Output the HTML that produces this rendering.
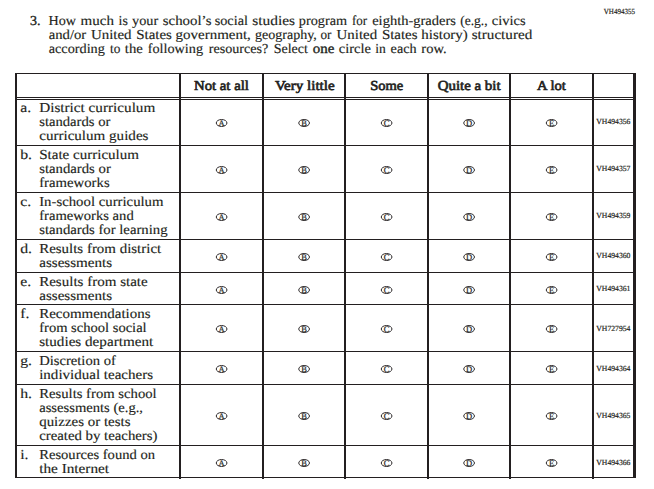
<!DOCTYPE html>
<html><head><meta charset="utf-8"><title>Question 3</title>
<style>html,body{margin:0;padding:0;background:#fff;}svg{display:block}text{fill:#231f20;stroke:#231f20;stroke-width:0.15px}text[font-weight=bold]{stroke:none}text.l{fill:#231f20;stroke:#231f20;stroke-width:0.2px}text.md{stroke:#231f20;stroke-width:0.35px}text.id{stroke:#231f20;stroke-width:0.18px}text.sb{stroke:#231f20;stroke-width:0.65px;stroke-linejoin:round}</style></head>
<body><svg width="654" height="489" viewBox="0 0 654 489" text-rendering="geometricPrecision">
<rect x="15" y="73" width="621" height="1" fill="#231f20"/>
<rect x="15" y="97" width="620" height="1" fill="#231f20"/>
<rect x="15" y="99" width="620" height="1" fill="#231f20"/>
<rect x="15" y="145" width="620" height="1" fill="#231f20"/>
<rect x="15" y="192" width="620" height="1" fill="#231f20"/>
<rect x="15" y="239" width="620" height="1" fill="#231f20"/>
<rect x="15" y="272" width="620" height="1" fill="#231f20"/>
<rect x="15" y="304" width="620" height="1" fill="#231f20"/>
<rect x="15" y="351" width="620" height="1" fill="#231f20"/>
<rect x="15" y="384" width="620" height="1" fill="#231f20"/>
<rect x="15" y="445" width="620" height="1" fill="#231f20"/>
<rect x="15" y="477" width="620" height="1" fill="#231f20"/>
<rect x="15" y="73" width="2" height="405" fill="#231f20"/>
<rect x="633" y="73" width="3" height="405" fill="#231f20"/>
<rect x="179" y="73" width="2" height="406" fill="#231f20"/>
<rect x="262" y="73" width="2" height="406" fill="#231f20"/>
<rect x="344" y="73" width="2" height="406" fill="#231f20"/>
<rect x="427" y="73" width="2" height="406" fill="#231f20"/>
<rect x="509" y="73" width="2" height="406" fill="#231f20"/>
<rect x="592" y="73" width="2" height="406" fill="#231f20"/>
<text x="29.90" y="25.00" font-family="'Liberation Serif', serif" font-size="13.7" font-weight="normal" class="md" textLength="10.53" lengthAdjust="spacingAndGlyphs">3.</text>
<text x="48.50" y="25.00" font-family="'Liberation Serif', serif" font-size="13.7" font-weight="normal" textLength="27.48" lengthAdjust="spacingAndGlyphs">How</text>
<text x="80.60" y="25.00" font-family="'Liberation Serif', serif" font-size="13.7" font-weight="normal" textLength="33.33" lengthAdjust="spacingAndGlyphs">much</text>
<text x="118.50" y="25.00" font-family="'Liberation Serif', serif" font-size="13.7" font-weight="normal" textLength="9.33" lengthAdjust="spacingAndGlyphs">is</text>
<text x="132.10" y="25.00" font-family="'Liberation Serif', serif" font-size="13.7" font-weight="normal" textLength="26.14" lengthAdjust="spacingAndGlyphs">your</text>
<text x="162.80" y="25.00" font-family="'Liberation Serif', serif" font-size="13.7" font-weight="normal" textLength="48.65" lengthAdjust="spacingAndGlyphs">school’s</text>
<text x="214.70" y="25.00" font-family="'Liberation Serif', serif" font-size="13.7" font-weight="normal" textLength="33.29" lengthAdjust="spacingAndGlyphs">social</text>
<text x="252.30" y="25.00" font-family="'Liberation Serif', serif" font-size="13.7" font-weight="normal" textLength="42.77" lengthAdjust="spacingAndGlyphs">studies</text>
<text x="298.80" y="25.00" font-family="'Liberation Serif', serif" font-size="13.7" font-weight="normal" textLength="48.23" lengthAdjust="spacingAndGlyphs">program</text>
<text x="352.00" y="25.00" font-family="'Liberation Serif', serif" font-size="13.7" font-weight="normal" textLength="15.18" lengthAdjust="spacingAndGlyphs">for</text>
<text x="372.20" y="25.00" font-family="'Liberation Serif', serif" font-size="13.7" font-weight="normal" textLength="83.75" lengthAdjust="spacingAndGlyphs">eighth-graders</text>
<text x="460.20" y="25.00" font-family="'Liberation Serif', serif" font-size="13.7" font-weight="normal" textLength="27.42" lengthAdjust="spacingAndGlyphs">(e.g.,</text>
<text x="491.80" y="25.00" font-family="'Liberation Serif', serif" font-size="13.7" font-weight="normal" textLength="33.85" lengthAdjust="spacingAndGlyphs">civics</text>
<text x="48.70" y="39.00" font-family="'Liberation Serif', serif" font-size="13.7" font-weight="normal" textLength="37.53" lengthAdjust="spacingAndGlyphs">and/or</text>
<text x="90.90" y="39.00" font-family="'Liberation Serif', serif" font-size="13.7" font-weight="normal" textLength="40.63" lengthAdjust="spacingAndGlyphs">United</text>
<text x="136.20" y="39.00" font-family="'Liberation Serif', serif" font-size="13.7" font-weight="normal" textLength="35.66" lengthAdjust="spacingAndGlyphs">States</text>
<text x="175.60" y="39.00" font-family="'Liberation Serif', serif" font-size="13.7" font-weight="normal" textLength="75.26" lengthAdjust="spacingAndGlyphs">government,</text>
<text x="255.00" y="39.00" font-family="'Liberation Serif', serif" font-size="13.7" font-weight="normal" textLength="61.83" lengthAdjust="spacingAndGlyphs">geography,</text>
<text x="320.50" y="39.00" font-family="'Liberation Serif', serif" font-size="13.7" font-weight="normal" textLength="10.97" lengthAdjust="spacingAndGlyphs">or</text>
<text x="336.50" y="39.00" font-family="'Liberation Serif', serif" font-size="13.7" font-weight="normal" textLength="40.63" lengthAdjust="spacingAndGlyphs">United</text>
<text x="381.90" y="39.00" font-family="'Liberation Serif', serif" font-size="13.7" font-weight="normal" textLength="35.66" lengthAdjust="spacingAndGlyphs">States</text>
<text x="421.30" y="39.00" font-family="'Liberation Serif', serif" font-size="13.7" font-weight="normal" textLength="46.51" lengthAdjust="spacingAndGlyphs">history)</text>
<text x="471.70" y="39.00" font-family="'Liberation Serif', serif" font-size="13.7" font-weight="normal" textLength="60.53" lengthAdjust="spacingAndGlyphs">structured</text>
<text x="48.70" y="53.00" font-family="'Liberation Serif', serif" font-size="13.7" font-weight="normal" textLength="56.14" lengthAdjust="spacingAndGlyphs">according</text>
<text x="110.10" y="53.00" font-family="'Liberation Serif', serif" font-size="13.7" font-weight="normal" textLength="10.35" lengthAdjust="spacingAndGlyphs">to</text>
<text x="124.80" y="53.00" font-family="'Liberation Serif', serif" font-size="13.7" font-weight="normal" textLength="17.98" lengthAdjust="spacingAndGlyphs">the</text>
<text x="147.70" y="53.00" font-family="'Liberation Serif', serif" font-size="13.7" font-weight="normal" textLength="55.34" lengthAdjust="spacingAndGlyphs">following</text>
<text x="208.70" y="53.00" font-family="'Liberation Serif', serif" font-size="13.7" font-weight="normal" textLength="59.68" lengthAdjust="spacingAndGlyphs">resources?</text>
<text x="273.70" y="53.00" font-family="'Liberation Serif', serif" font-size="13.7" font-weight="normal" textLength="34.20" lengthAdjust="spacingAndGlyphs">Select</text>
<text x="312.70" y="53.00" font-family="'Liberation Serif', serif" font-size="13.7" font-weight="normal" class="md" textLength="21.58" lengthAdjust="spacingAndGlyphs">one</text>
<text x="338.80" y="53.00" font-family="'Liberation Serif', serif" font-size="13.7" font-weight="normal" textLength="32.18" lengthAdjust="spacingAndGlyphs">circle</text>
<text x="375.30" y="53.00" font-family="'Liberation Serif', serif" font-size="13.7" font-weight="normal" textLength="10.55" lengthAdjust="spacingAndGlyphs">in</text>
<text x="390.60" y="53.00" font-family="'Liberation Serif', serif" font-size="13.7" font-weight="normal" textLength="25.94" lengthAdjust="spacingAndGlyphs">each</text>
<text x="421.30" y="53.00" font-family="'Liberation Serif', serif" font-size="13.7" font-weight="normal" textLength="25.25" lengthAdjust="spacingAndGlyphs">row.</text>
<text x="603.80" y="14.00" font-family="'Liberation Serif', serif" font-size="7.8" font-weight="normal" class="id" textLength="31.21" lengthAdjust="spacingAndGlyphs">VH494355</text>
<text x="194.00" y="90.00" font-family="'Liberation Serif', serif" font-size="13.7" font-weight="normal" class="sb" textLength="54.89" lengthAdjust="spacingAndGlyphs">Not at all</text>
<text x="274.90" y="90.00" font-family="'Liberation Serif', serif" font-size="13.7" font-weight="normal" class="sb" textLength="59.78" lengthAdjust="spacingAndGlyphs">Very little</text>
<text x="370.20" y="90.00" font-family="'Liberation Serif', serif" font-size="13.7" font-weight="normal" class="sb" textLength="33.08" lengthAdjust="spacingAndGlyphs">Some</text>
<text x="437.70" y="90.00" font-family="'Liberation Serif', serif" font-size="13.7" font-weight="normal" class="sb" textLength="62.89" lengthAdjust="spacingAndGlyphs">Quite a bit</text>
<text x="537.00" y="90.00" font-family="'Liberation Serif', serif" font-size="13.7" font-weight="normal" class="sb" textLength="28.89" lengthAdjust="spacingAndGlyphs">A lot</text>
<text x="20.20" y="112.00" font-family="'Liberation Serif', serif" font-size="13.7" font-weight="normal" textLength="10.92" lengthAdjust="spacingAndGlyphs">a.</text>
<text x="39.20" y="112.00" font-family="'Liberation Serif', serif" font-size="13.7" font-weight="normal" textLength="116.11" lengthAdjust="spacingAndGlyphs">District curriculum</text>
<text x="39.20" y="126.00" font-family="'Liberation Serif', serif" font-size="13.7" font-weight="normal" textLength="71.23" lengthAdjust="spacingAndGlyphs">standards or</text>
<text x="39.20" y="140.00" font-family="'Liberation Serif', serif" font-size="13.7" font-weight="normal" textLength="109.26" lengthAdjust="spacingAndGlyphs">curriculum guides</text>
<text x="596.30" y="124.15" font-family="'Liberation Serif', serif" font-size="7.8" font-weight="normal" class="id" textLength="34.10" lengthAdjust="spacingAndGlyphs">VH494356</text>
<text x="20.20" y="159.00" font-family="'Liberation Serif', serif" font-size="13.7" font-weight="normal" textLength="11.81" lengthAdjust="spacingAndGlyphs">b.</text>
<text x="39.20" y="159.00" font-family="'Liberation Serif', serif" font-size="13.7" font-weight="normal" textLength="99.81" lengthAdjust="spacingAndGlyphs">State curriculum</text>
<text x="39.20" y="173.00" font-family="'Liberation Serif', serif" font-size="13.7" font-weight="normal" textLength="71.62" lengthAdjust="spacingAndGlyphs">standards or</text>
<text x="39.20" y="187.00" font-family="'Liberation Serif', serif" font-size="13.7" font-weight="normal" textLength="70.45" lengthAdjust="spacingAndGlyphs">frameworks</text>
<text x="596.30" y="171.15" font-family="'Liberation Serif', serif" font-size="7.8" font-weight="normal" class="id" textLength="34.10" lengthAdjust="spacingAndGlyphs">VH494357</text>
<text x="20.20" y="206.00" font-family="'Liberation Serif', serif" font-size="13.7" font-weight="normal" textLength="10.92" lengthAdjust="spacingAndGlyphs">c.</text>
<text x="39.20" y="206.00" font-family="'Liberation Serif', serif" font-size="13.7" font-weight="normal" textLength="124.32" lengthAdjust="spacingAndGlyphs">In-school curriculum</text>
<text x="39.20" y="220.00" font-family="'Liberation Serif', serif" font-size="13.7" font-weight="normal" textLength="94.53" lengthAdjust="spacingAndGlyphs">frameworks and</text>
<text x="39.20" y="234.00" font-family="'Liberation Serif', serif" font-size="13.7" font-weight="normal" textLength="128.33" lengthAdjust="spacingAndGlyphs">standards for learning</text>
<text x="596.30" y="218.05" font-family="'Liberation Serif', serif" font-size="7.8" font-weight="normal" class="id" textLength="34.10" lengthAdjust="spacingAndGlyphs">VH494359</text>
<text x="20.20" y="253.00" font-family="'Liberation Serif', serif" font-size="13.7" font-weight="normal" textLength="11.81" lengthAdjust="spacingAndGlyphs">d.</text>
<text x="39.20" y="253.00" font-family="'Liberation Serif', serif" font-size="13.7" font-weight="normal" textLength="121.98" lengthAdjust="spacingAndGlyphs">Results from district</text>
<text x="39.20" y="267.00" font-family="'Liberation Serif', serif" font-size="13.7" font-weight="normal" textLength="72.96" lengthAdjust="spacingAndGlyphs">assessments</text>
<text x="596.30" y="258.05" font-family="'Liberation Serif', serif" font-size="7.8" font-weight="normal" class="id" textLength="34.10" lengthAdjust="spacingAndGlyphs">VH494360</text>
<text x="20.20" y="286.00" font-family="'Liberation Serif', serif" font-size="13.7" font-weight="normal" textLength="10.92" lengthAdjust="spacingAndGlyphs">e.</text>
<text x="39.20" y="286.00" font-family="'Liberation Serif', serif" font-size="13.7" font-weight="normal" textLength="108.48" lengthAdjust="spacingAndGlyphs">Results from state</text>
<text x="39.20" y="300.00" font-family="'Liberation Serif', serif" font-size="13.7" font-weight="normal" textLength="72.96" lengthAdjust="spacingAndGlyphs">assessments</text>
<text x="596.30" y="291.05" font-family="'Liberation Serif', serif" font-size="7.8" font-weight="normal" class="id" textLength="34.10" lengthAdjust="spacingAndGlyphs">VH494361</text>
<text x="20.20" y="318.00" font-family="'Liberation Serif', serif" font-size="13.7" font-weight="normal" textLength="9.18" lengthAdjust="spacingAndGlyphs">f.</text>
<text x="39.20" y="318.00" font-family="'Liberation Serif', serif" font-size="13.7" font-weight="normal" textLength="111.36" lengthAdjust="spacingAndGlyphs">Recommendations</text>
<text x="39.20" y="332.00" font-family="'Liberation Serif', serif" font-size="13.7" font-weight="normal" textLength="107.49" lengthAdjust="spacingAndGlyphs">from school social</text>
<text x="39.20" y="346.00" font-family="'Liberation Serif', serif" font-size="13.7" font-weight="normal" textLength="113.98" lengthAdjust="spacingAndGlyphs">studies department</text>
<text x="596.30" y="331.05" font-family="'Liberation Serif', serif" font-size="7.8" font-weight="normal" class="id" textLength="34.10" lengthAdjust="spacingAndGlyphs">VH727954</text>
<text x="20.20" y="365.00" font-family="'Liberation Serif', serif" font-size="13.7" font-weight="normal" textLength="11.81" lengthAdjust="spacingAndGlyphs">g.</text>
<text x="39.20" y="365.00" font-family="'Liberation Serif', serif" font-size="13.7" font-weight="normal" textLength="76.63" lengthAdjust="spacingAndGlyphs">Discretion of</text>
<text x="39.20" y="379.00" font-family="'Liberation Serif', serif" font-size="13.7" font-weight="normal" textLength="113.86" lengthAdjust="spacingAndGlyphs">individual teachers</text>
<text x="596.30" y="371.05" font-family="'Liberation Serif', serif" font-size="7.8" font-weight="normal" class="id" textLength="34.10" lengthAdjust="spacingAndGlyphs">VH494364</text>
<text x="20.20" y="398.00" font-family="'Liberation Serif', serif" font-size="13.7" font-weight="normal" textLength="11.81" lengthAdjust="spacingAndGlyphs">h.</text>
<text x="39.20" y="398.00" font-family="'Liberation Serif', serif" font-size="13.7" font-weight="normal" textLength="117.49" lengthAdjust="spacingAndGlyphs">Results from school</text>
<text x="39.20" y="412.00" font-family="'Liberation Serif', serif" font-size="13.7" font-weight="normal" textLength="103.85" lengthAdjust="spacingAndGlyphs">assessments (e.g.,</text>
<text x="39.20" y="426.00" font-family="'Liberation Serif', serif" font-size="13.7" font-weight="normal" textLength="91.26" lengthAdjust="spacingAndGlyphs">quizzes or tests</text>
<text x="39.20" y="440.00" font-family="'Liberation Serif', serif" font-size="13.7" font-weight="normal" textLength="118.30" lengthAdjust="spacingAndGlyphs">created by teachers)</text>
<text x="596.30" y="418.05" font-family="'Liberation Serif', serif" font-size="7.8" font-weight="normal" class="id" textLength="34.10" lengthAdjust="spacingAndGlyphs">VH494365</text>
<text x="20.20" y="459.00" font-family="'Liberation Serif', serif" font-size="13.7" font-weight="normal" textLength="8.31" lengthAdjust="spacingAndGlyphs">i.</text>
<text x="39.20" y="459.00" font-family="'Liberation Serif', serif" font-size="13.7" font-weight="normal" textLength="115.83" lengthAdjust="spacingAndGlyphs">Resources found on</text>
<text x="39.20" y="473.00" font-family="'Liberation Serif', serif" font-size="13.7" font-weight="normal" textLength="69.88" lengthAdjust="spacingAndGlyphs">the Internet</text>
<text x="596.30" y="465.05" font-family="'Liberation Serif', serif" font-size="7.8" font-weight="normal" class="id" textLength="34.10" lengthAdjust="spacingAndGlyphs">VH494366</text>
<ellipse cx="221.6" cy="123.00" rx="5.35" ry="3.5" fill="none" stroke="#231f20" stroke-width="0.95"/>
<text class="l" x="221.6" y="126.10" text-anchor="middle" font-family="'Liberation Serif', serif" font-size="8.5">A</text>
<ellipse cx="304.1" cy="123.00" rx="5.35" ry="3.5" fill="none" stroke="#231f20" stroke-width="0.95"/>
<text class="l" x="304.1" y="126.10" text-anchor="middle" font-family="'Liberation Serif', serif" font-size="8.5">B</text>
<ellipse cx="386.6" cy="123.00" rx="5.35" ry="3.5" fill="none" stroke="#231f20" stroke-width="0.95"/>
<text class="l" x="386.6" y="126.10" text-anchor="middle" font-family="'Liberation Serif', serif" font-size="8.5">C</text>
<ellipse cx="469.1" cy="123.00" rx="5.35" ry="3.5" fill="none" stroke="#231f20" stroke-width="0.95"/>
<text class="l" x="469.1" y="126.10" text-anchor="middle" font-family="'Liberation Serif', serif" font-size="8.5">D</text>
<ellipse cx="551.6" cy="123.00" rx="5.35" ry="3.5" fill="none" stroke="#231f20" stroke-width="0.95"/>
<text class="l" x="551.6" y="126.10" text-anchor="middle" font-family="'Liberation Serif', serif" font-size="8.5">E</text>
<ellipse cx="221.6" cy="170.00" rx="5.35" ry="3.5" fill="none" stroke="#231f20" stroke-width="0.95"/>
<text class="l" x="221.6" y="173.10" text-anchor="middle" font-family="'Liberation Serif', serif" font-size="8.5">A</text>
<ellipse cx="304.1" cy="170.00" rx="5.35" ry="3.5" fill="none" stroke="#231f20" stroke-width="0.95"/>
<text class="l" x="304.1" y="173.10" text-anchor="middle" font-family="'Liberation Serif', serif" font-size="8.5">B</text>
<ellipse cx="386.6" cy="170.00" rx="5.35" ry="3.5" fill="none" stroke="#231f20" stroke-width="0.95"/>
<text class="l" x="386.6" y="173.10" text-anchor="middle" font-family="'Liberation Serif', serif" font-size="8.5">C</text>
<ellipse cx="469.1" cy="170.00" rx="5.35" ry="3.5" fill="none" stroke="#231f20" stroke-width="0.95"/>
<text class="l" x="469.1" y="173.10" text-anchor="middle" font-family="'Liberation Serif', serif" font-size="8.5">D</text>
<ellipse cx="551.6" cy="170.00" rx="5.35" ry="3.5" fill="none" stroke="#231f20" stroke-width="0.95"/>
<text class="l" x="551.6" y="173.10" text-anchor="middle" font-family="'Liberation Serif', serif" font-size="8.5">E</text>
<ellipse cx="221.6" cy="217.00" rx="5.35" ry="3.5" fill="none" stroke="#231f20" stroke-width="0.95"/>
<text class="l" x="221.6" y="220.10" text-anchor="middle" font-family="'Liberation Serif', serif" font-size="8.5">A</text>
<ellipse cx="304.1" cy="217.00" rx="5.35" ry="3.5" fill="none" stroke="#231f20" stroke-width="0.95"/>
<text class="l" x="304.1" y="220.10" text-anchor="middle" font-family="'Liberation Serif', serif" font-size="8.5">B</text>
<ellipse cx="386.6" cy="217.00" rx="5.35" ry="3.5" fill="none" stroke="#231f20" stroke-width="0.95"/>
<text class="l" x="386.6" y="220.10" text-anchor="middle" font-family="'Liberation Serif', serif" font-size="8.5">C</text>
<ellipse cx="469.1" cy="217.00" rx="5.35" ry="3.5" fill="none" stroke="#231f20" stroke-width="0.95"/>
<text class="l" x="469.1" y="220.10" text-anchor="middle" font-family="'Liberation Serif', serif" font-size="8.5">D</text>
<ellipse cx="551.6" cy="217.00" rx="5.35" ry="3.5" fill="none" stroke="#231f20" stroke-width="0.95"/>
<text class="l" x="551.6" y="220.10" text-anchor="middle" font-family="'Liberation Serif', serif" font-size="8.5">E</text>
<ellipse cx="221.6" cy="257.00" rx="5.35" ry="3.5" fill="none" stroke="#231f20" stroke-width="0.95"/>
<text class="l" x="221.6" y="260.10" text-anchor="middle" font-family="'Liberation Serif', serif" font-size="8.5">A</text>
<ellipse cx="304.1" cy="257.00" rx="5.35" ry="3.5" fill="none" stroke="#231f20" stroke-width="0.95"/>
<text class="l" x="304.1" y="260.10" text-anchor="middle" font-family="'Liberation Serif', serif" font-size="8.5">B</text>
<ellipse cx="386.6" cy="257.00" rx="5.35" ry="3.5" fill="none" stroke="#231f20" stroke-width="0.95"/>
<text class="l" x="386.6" y="260.10" text-anchor="middle" font-family="'Liberation Serif', serif" font-size="8.5">C</text>
<ellipse cx="469.1" cy="257.00" rx="5.35" ry="3.5" fill="none" stroke="#231f20" stroke-width="0.95"/>
<text class="l" x="469.1" y="260.10" text-anchor="middle" font-family="'Liberation Serif', serif" font-size="8.5">D</text>
<ellipse cx="551.6" cy="257.00" rx="5.35" ry="3.5" fill="none" stroke="#231f20" stroke-width="0.95"/>
<text class="l" x="551.6" y="260.10" text-anchor="middle" font-family="'Liberation Serif', serif" font-size="8.5">E</text>
<ellipse cx="221.6" cy="290.00" rx="5.35" ry="3.5" fill="none" stroke="#231f20" stroke-width="0.95"/>
<text class="l" x="221.6" y="293.10" text-anchor="middle" font-family="'Liberation Serif', serif" font-size="8.5">A</text>
<ellipse cx="304.1" cy="290.00" rx="5.35" ry="3.5" fill="none" stroke="#231f20" stroke-width="0.95"/>
<text class="l" x="304.1" y="293.10" text-anchor="middle" font-family="'Liberation Serif', serif" font-size="8.5">B</text>
<ellipse cx="386.6" cy="290.00" rx="5.35" ry="3.5" fill="none" stroke="#231f20" stroke-width="0.95"/>
<text class="l" x="386.6" y="293.10" text-anchor="middle" font-family="'Liberation Serif', serif" font-size="8.5">C</text>
<ellipse cx="469.1" cy="290.00" rx="5.35" ry="3.5" fill="none" stroke="#231f20" stroke-width="0.95"/>
<text class="l" x="469.1" y="293.10" text-anchor="middle" font-family="'Liberation Serif', serif" font-size="8.5">D</text>
<ellipse cx="551.6" cy="290.00" rx="5.35" ry="3.5" fill="none" stroke="#231f20" stroke-width="0.95"/>
<text class="l" x="551.6" y="293.10" text-anchor="middle" font-family="'Liberation Serif', serif" font-size="8.5">E</text>
<ellipse cx="221.6" cy="329.00" rx="5.35" ry="3.5" fill="none" stroke="#231f20" stroke-width="0.95"/>
<text class="l" x="221.6" y="332.10" text-anchor="middle" font-family="'Liberation Serif', serif" font-size="8.5">A</text>
<ellipse cx="304.1" cy="329.00" rx="5.35" ry="3.5" fill="none" stroke="#231f20" stroke-width="0.95"/>
<text class="l" x="304.1" y="332.10" text-anchor="middle" font-family="'Liberation Serif', serif" font-size="8.5">B</text>
<ellipse cx="386.6" cy="329.00" rx="5.35" ry="3.5" fill="none" stroke="#231f20" stroke-width="0.95"/>
<text class="l" x="386.6" y="332.10" text-anchor="middle" font-family="'Liberation Serif', serif" font-size="8.5">C</text>
<ellipse cx="469.1" cy="329.00" rx="5.35" ry="3.5" fill="none" stroke="#231f20" stroke-width="0.95"/>
<text class="l" x="469.1" y="332.10" text-anchor="middle" font-family="'Liberation Serif', serif" font-size="8.5">D</text>
<ellipse cx="551.6" cy="329.00" rx="5.35" ry="3.5" fill="none" stroke="#231f20" stroke-width="0.95"/>
<text class="l" x="551.6" y="332.10" text-anchor="middle" font-family="'Liberation Serif', serif" font-size="8.5">E</text>
<ellipse cx="221.6" cy="369.00" rx="5.35" ry="3.5" fill="none" stroke="#231f20" stroke-width="0.95"/>
<text class="l" x="221.6" y="372.10" text-anchor="middle" font-family="'Liberation Serif', serif" font-size="8.5">A</text>
<ellipse cx="304.1" cy="369.00" rx="5.35" ry="3.5" fill="none" stroke="#231f20" stroke-width="0.95"/>
<text class="l" x="304.1" y="372.10" text-anchor="middle" font-family="'Liberation Serif', serif" font-size="8.5">B</text>
<ellipse cx="386.6" cy="369.00" rx="5.35" ry="3.5" fill="none" stroke="#231f20" stroke-width="0.95"/>
<text class="l" x="386.6" y="372.10" text-anchor="middle" font-family="'Liberation Serif', serif" font-size="8.5">C</text>
<ellipse cx="469.1" cy="369.00" rx="5.35" ry="3.5" fill="none" stroke="#231f20" stroke-width="0.95"/>
<text class="l" x="469.1" y="372.10" text-anchor="middle" font-family="'Liberation Serif', serif" font-size="8.5">D</text>
<ellipse cx="551.6" cy="369.00" rx="5.35" ry="3.5" fill="none" stroke="#231f20" stroke-width="0.95"/>
<text class="l" x="551.6" y="372.10" text-anchor="middle" font-family="'Liberation Serif', serif" font-size="8.5">E</text>
<ellipse cx="221.6" cy="416.00" rx="5.35" ry="3.5" fill="none" stroke="#231f20" stroke-width="0.95"/>
<text class="l" x="221.6" y="419.10" text-anchor="middle" font-family="'Liberation Serif', serif" font-size="8.5">A</text>
<ellipse cx="304.1" cy="416.00" rx="5.35" ry="3.5" fill="none" stroke="#231f20" stroke-width="0.95"/>
<text class="l" x="304.1" y="419.10" text-anchor="middle" font-family="'Liberation Serif', serif" font-size="8.5">B</text>
<ellipse cx="386.6" cy="416.00" rx="5.35" ry="3.5" fill="none" stroke="#231f20" stroke-width="0.95"/>
<text class="l" x="386.6" y="419.10" text-anchor="middle" font-family="'Liberation Serif', serif" font-size="8.5">C</text>
<ellipse cx="469.1" cy="416.00" rx="5.35" ry="3.5" fill="none" stroke="#231f20" stroke-width="0.95"/>
<text class="l" x="469.1" y="419.10" text-anchor="middle" font-family="'Liberation Serif', serif" font-size="8.5">D</text>
<ellipse cx="551.6" cy="416.00" rx="5.35" ry="3.5" fill="none" stroke="#231f20" stroke-width="0.95"/>
<text class="l" x="551.6" y="419.10" text-anchor="middle" font-family="'Liberation Serif', serif" font-size="8.5">E</text>
<ellipse cx="221.6" cy="463.00" rx="5.35" ry="3.5" fill="none" stroke="#231f20" stroke-width="0.95"/>
<text class="l" x="221.6" y="466.10" text-anchor="middle" font-family="'Liberation Serif', serif" font-size="8.5">A</text>
<ellipse cx="304.1" cy="463.00" rx="5.35" ry="3.5" fill="none" stroke="#231f20" stroke-width="0.95"/>
<text class="l" x="304.1" y="466.10" text-anchor="middle" font-family="'Liberation Serif', serif" font-size="8.5">B</text>
<ellipse cx="386.6" cy="463.00" rx="5.35" ry="3.5" fill="none" stroke="#231f20" stroke-width="0.95"/>
<text class="l" x="386.6" y="466.10" text-anchor="middle" font-family="'Liberation Serif', serif" font-size="8.5">C</text>
<ellipse cx="469.1" cy="463.00" rx="5.35" ry="3.5" fill="none" stroke="#231f20" stroke-width="0.95"/>
<text class="l" x="469.1" y="466.10" text-anchor="middle" font-family="'Liberation Serif', serif" font-size="8.5">D</text>
<ellipse cx="551.6" cy="463.00" rx="5.35" ry="3.5" fill="none" stroke="#231f20" stroke-width="0.95"/>
<text class="l" x="551.6" y="466.10" text-anchor="middle" font-family="'Liberation Serif', serif" font-size="8.5">E</text>
</svg></body></html>
